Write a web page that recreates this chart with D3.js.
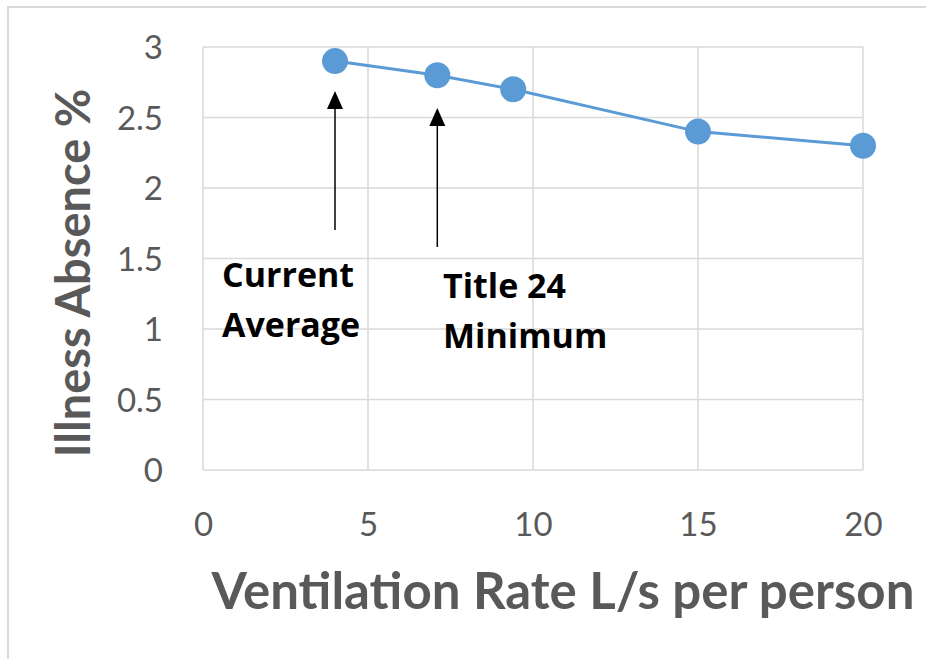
<!DOCTYPE html>
<html>
<head>
<meta charset="utf-8">
<script src="https://cdn.jsdelivr.net/npm/d3@7"></script>
<style>
  html, body { margin: 0; padding: 0; background: #fff; }
  svg { display: block; }
</style>
</head>
<body>
<svg id="chart" width="926" height="659"></svg>
<script>
// Ventilation rate (L/s per person) vs illness absence (%)
const ventilationRate = [4, 7.1, 9.4, 15, 20];
const illnessAbsence = [2.9, 2.8, 2.7, 2.4, 2.3];
const xTicks = [0, 5, 10, 15, 20];
const yTicks = [0, 0.5, 1, 1.5, 2, 2.5, 3];
const annotationX = [4, 7.1];
const annotationLines = [["Current", "Average"], ["Title 24", "Minimum"]];

const svg = d3.select("#chart");
const W = 926, H = 659;
const plot = { left: 203, right: 863, top: 47, bottom: 470 };

const x = d3.scaleLinear().domain([0, 20]).range([plot.left, plot.right]);
const y = d3.scaleLinear().domain([0, 3]).range([plot.bottom, plot.top]);

// chart frame
svg.append("rect")
  .attr("x", 8).attr("y", 7)
  .attr("width", W).attr("height", H)
  .attr("fill", "none")
  .attr("stroke", "#d9d9d9").attr("stroke-width", 2);

const gridColor = "#d9d9d9";
const titleFont = "Lato, 'Open Sans', sans-serif";
const noteFont = "'Open Sans', Lato, sans-serif";

// gridlines
svg.append("g").selectAll("line").data(yTicks).join("line")
  .attr("x1", plot.left).attr("x2", plot.right)
  .attr("y1", d => y(d)).attr("y2", d => y(d))
  .attr("stroke", gridColor).attr("stroke-width", 1.5);
svg.append("g").selectAll("line").data(xTicks).join("line")
  .attr("y1", plot.top).attr("y2", plot.bottom)
  .attr("x1", d => x(d)).attr("x2", d => x(d))
  .attr("stroke", gridColor).attr("stroke-width", 1.5);

// axes (labels only)
const fmt = d => String(d);
const xAxis = svg.append("g")
  .attr("transform", `translate(0,${plot.bottom})`)
  .call(d3.axisBottom(x).tickValues(xTicks).tickFormat(fmt).tickSize(0).tickPadding(43));
const yAxis = svg.append("g")
  .attr("transform", `translate(${plot.left},0)`)
  .call(d3.axisLeft(y).tickValues(yTicks).tickFormat(fmt).tickSize(0).tickPadding(40));
[xAxis, yAxis].forEach(g => {
  g.select(".domain").remove();
  g.selectAll("text")
    .attr("fill", "#595959")
    .style("font-family", titleFont)
    .style("font-size", "33px");
});
yAxis.selectAll("text").attr("dy", "0.36em");

// axis titles
svg.append("text")
  .attr("x", 563).attr("y", 609)
  .attr("text-anchor", "middle")
  .attr("fill", "#595959")
  .style("font-family", titleFont)
  .style("font-weight", "bold")
  .style("font-size", "51px")
  .text("Ventilation Rate L/s per person");

svg.append("text")
  .attr("transform", `translate(90,273) rotate(-90)`)
  .attr("text-anchor", "middle")
  .attr("fill", "#595959")
  .style("font-family", titleFont)
  .style("font-weight", "bold")
  .style("font-size", "47px")
  .text("Illness Absence %");

// data line and markers
const pts = ventilationRate.map((v, i) => [v, illnessAbsence[i]]);
svg.append("path")
  .datum(pts)
  .attr("fill", "none")
  .attr("stroke", "#5b9bd5")
  .attr("stroke-width", 3)
  .attr("d", d3.line().x(d => x(d[0])).y(d => y(d[1])));
svg.append("g").selectAll("circle").data(pts).join("circle")
  .attr("cx", d => x(d[0])).attr("cy", d => y(d[1]))
  .attr("r", 13)
  .attr("fill", "#5b9bd5");

// annotation arrows
const arrowTop = [91, 108];
const arrowBottom = [230, 247];
annotationX.forEach((v, i) => {
  const ax = x(v);
  svg.append("line")
    .attr("x1", ax).attr("x2", ax)
    .attr("y1", arrowBottom[i]).attr("y2", arrowTop[i] + 14)
    .attr("stroke", "#000").attr("stroke-width", 1.5);
  svg.append("path")
    .attr("d", `M${ax},${arrowTop[i]} L${ax - 8},${arrowTop[i] + 18} L${ax + 8},${arrowTop[i] + 18} Z`)
    .attr("fill", "#000");
});

// annotation text
const labelPos = [[222, 287], [443, 298]];
annotationLines.forEach((lines, i) => {
  const t = svg.append("text")
    .attr("x", labelPos[i][0]).attr("y", labelPos[i][1])
    .attr("fill", "#000")
    .style("font-family", noteFont)
    .style("font-weight", "bold")
    .style("font-size", "34px");
  lines.forEach((s, j) => {
    t.append("tspan").attr("x", labelPos[i][0]).attr("dy", j === 0 ? 0 : 50).text(s);
  });
});
</script>
</body>
</html>
